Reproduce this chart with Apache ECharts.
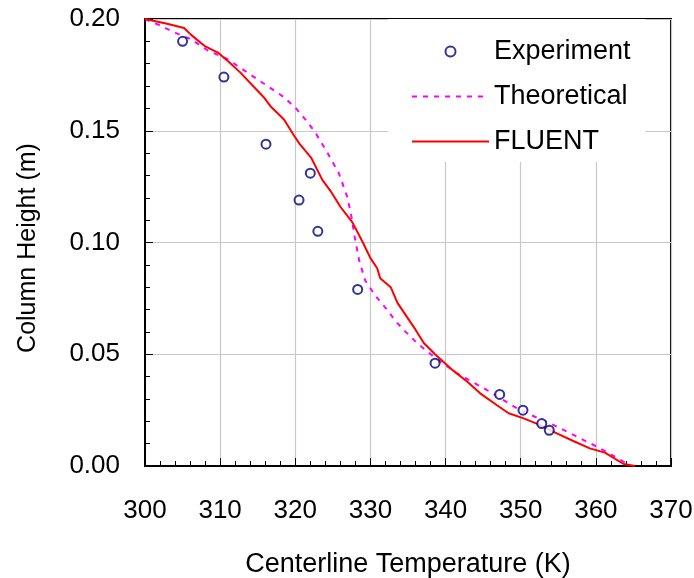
<!DOCTYPE html>
<html>
<head>
<meta charset="utf-8">
<script src="https://cdn.jsdelivr.net/npm/echarts@6/dist/echarts.min.js"></script>
<style>
  html, body { margin: 0; padding: 0; background: #fff; }
  #chart { width: 694px; height: 578px; }
</style>
</head>
<body>
<div id="chart"></div>
<script>
// Experiment points
var expTemp = [305.0, 310.5, 316.1, 322.0, 320.5, 323.0, 328.3, 338.6, 347.2, 350.3, 352.8, 353.8]
var expHeight = [0.190, 0.174, 0.144, 0.131, 0.119, 0.105, 0.079, 0.046, 0.032, 0.025, 0.019, 0.016]

// Theoretical curve
var theoTemp = [300.0, 302.1, 303.9, 306.1, 308.3, 311.0, 313.2, 316.3, 318.5, 320.1, 321.6, 322.7, 324.3, 325.8, 326.9, 327.4, 327.9, 328.5, 329.3, 330.7, 332.2, 333.3, 334.4, 336.2, 338.4, 341.5, 345.5, 349.9, 354.4, 359.7, 361.4, 363.7, 364.6]
var theoHeight = [0.200, 0.197, 0.194, 0.191, 0.186, 0.182, 0.177, 0.170, 0.165, 0.160, 0.154, 0.149, 0.140, 0.131, 0.1205, 0.113, 0.1026, 0.092, 0.083, 0.076, 0.070, 0.065, 0.061, 0.055, 0.049, 0.0415, 0.034, 0.025, 0.0183, 0.0094, 0.0064, 0.0019, 0.0]

// FLUENT curve
var fluentTemp = [300.0, 302.8, 305.2, 306.1, 307.9, 309.7, 311.1, 312.7, 315.8, 316.7, 318.5, 319.8, 320.6, 322.1, 323.6, 324.7, 326.0, 327.6, 329.0, 330.0, 330.9, 331.3, 332.7, 333.6, 336.0, 337.1, 338.6, 340.9, 342.9, 344.6, 346.8, 348.4, 350.4, 352.6, 354.8, 357.0, 359.2, 361.2, 363.7, 365.2]
var fluentHeight = [0.200, 0.198, 0.196, 0.193, 0.188, 0.185, 0.181, 0.176, 0.165, 0.161, 0.155, 0.148, 0.144, 0.138, 0.128, 0.123, 0.116, 0.109, 0.100, 0.093, 0.0885, 0.084, 0.080, 0.073, 0.061, 0.055, 0.050, 0.043, 0.0377, 0.0325, 0.0273, 0.0236, 0.0213, 0.0183, 0.0146, 0.0112, 0.0079, 0.0060, 0.0009, 0.0]

var seriesNames = ['Experiment', 'Theoretical', 'FLUENT']

function pairs (xs, ys) {
  return xs.map(function (x, i) { return [x, ys[i]] })
}

var font = 'Arial, "Liberation Sans", sans-serif'

var chart = echarts.init(document.getElementById('chart'), null, { renderer: 'canvas' })

chart.setOption({
  animation: false,
  backgroundColor: '#fff',
  grid: {
    left: 145,
    right: 23,
    top: 19,
    bottom: 112,
    outerBoundsMode: 'none',
    containLabel: false,
    show: true,
    borderColor: '#000',
    borderWidth: 2,
    backgroundColor: 'transparent'
  },
  legend: {
    data: seriesNames,
    orient: 'vertical',
    left: 388,
    top: 19,
    padding: [19, 15, 7, 23],
    itemWidth: 77,
    itemHeight: 10,
    itemGap: 18,
    backgroundColor: '#fff',
    textStyle: { fontFamily: font, fontSize: 27, color: '#000' }
  },
  xAxis: {
    type: 'value',
    min: 300,
    max: 370,
    interval: 10,
    axisLine: { show: true, lineStyle: { color: '#000', width: 2 } },
    axisTick: { show: true, inside: true, length: 8, lineStyle: { color: '#000', width: 1 } },
    minorTick: { show: true, splitNumber: 5, length: 5, lineStyle: { color: '#000', width: 1 } },
    splitLine: { show: true, lineStyle: { color: '#c8c8c8', width: 1.2 } },
    axisLabel: { fontFamily: font, fontSize: 26, color: '#000', margin: 32 },
    name: 'Centerline Temperature (K)',
    nameLocation: 'middle',
    nameGap: 85,
    nameTextStyle: { fontFamily: font, fontSize: 27, color: '#000' }
  },
  yAxis: {
    type: 'value',
    min: 0,
    max: 0.2,
    interval: 0.05,
    axisLine: { show: true, lineStyle: { color: '#000', width: 2 } },
    axisTick: { show: true, inside: true, length: 8, lineStyle: { color: '#000', width: 1 } },
    minorTick: { show: true, splitNumber: 5, length: 5, lineStyle: { color: '#000', width: 1 } },
    splitLine: { show: true, lineStyle: { color: '#c8c8c8', width: 1.2 } },
    axisLabel: {
      fontFamily: font,
      fontSize: 26,
      color: '#000',
      margin: 25,
      formatter: function (v) { return v.toFixed(2) }
    },
    name: 'Column Height (m)',
    nameLocation: 'middle',
    nameGap: 104,
    nameTextStyle: { fontFamily: font, fontSize: 25, color: '#000', padding: [0, 11, 0, 0] }
  },
  series: [
    {
      name: seriesNames[0],
      type: 'scatter',
      symbol: 'emptyCircle',
      symbolSize: 9,
      itemStyle: { color: '#000080', borderColor: '#000080', borderWidth: 2 },
      data: pairs(expTemp, expHeight),
      z: 5
    },
    {
      name: seriesNames[1],
      type: 'line',
      symbol: 'none',
      lineStyle: { color: '#ff00ff', width: 2, type: [5, 6] },
      itemStyle: { color: 'rgba(0,0,0,0)' },
      data: pairs(theoTemp, theoHeight),
      z: 3
    },
    {
      name: seriesNames[2],
      type: 'line',
      symbol: 'none',
      lineStyle: { color: '#ff0000', width: 2 },
      itemStyle: { color: 'rgba(0,0,0,0)' },
      data: pairs(fluentTemp, fluentHeight),
      z: 4
    }
  ]
})
</script>
</body>
</html>
